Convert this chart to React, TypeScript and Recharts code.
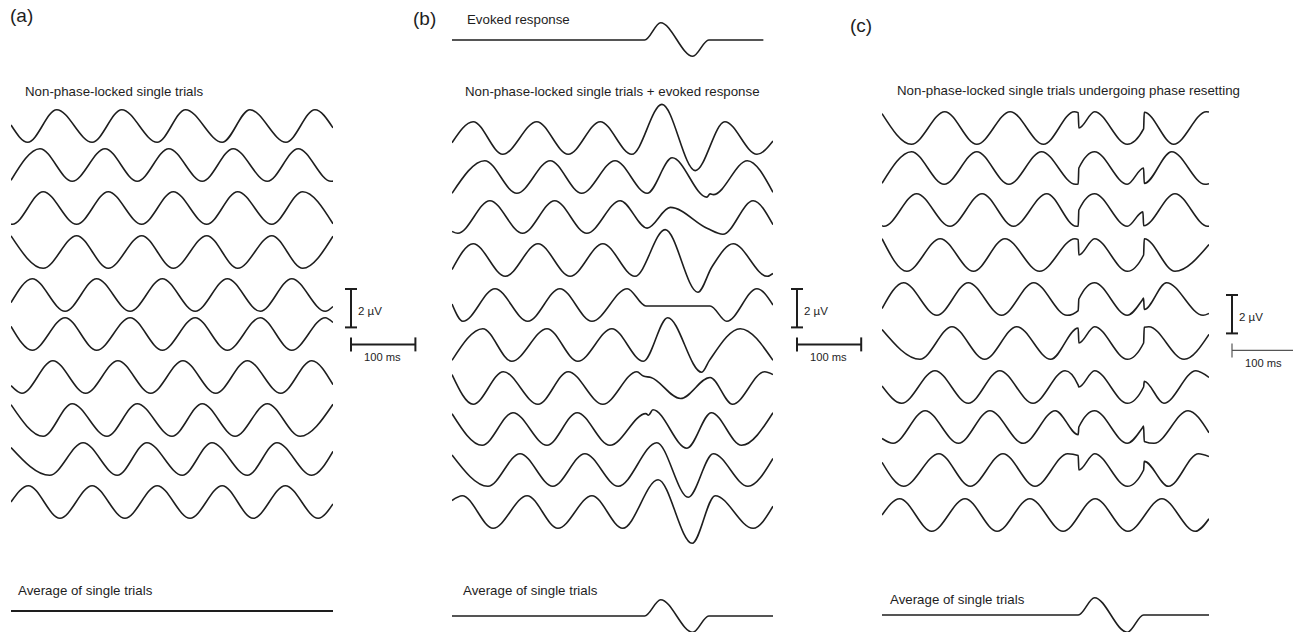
import React from 'react'
import { LineChart, Line, XAxis, YAxis } from 'recharts'

type Pt = [number, number]

// [time in ms, amplitude in µV], peaks / troughs / jumps

// (a) non-phase-locked single trials
const trialsA: Pt[][] = [
  [[0, 0.05], [26, -0.85], [71, 0.85], [126, -0.85], [172, 0.85], [227, -0.85], [271, 0.85], [328, -0.85], [371, 0.85], [427, -0.85], [472, 0.85], [500, -0.1]],
  [[0, -0.8], [45, 0.85], [95, -0.85], [146, 0.85], [196, -0.85], [245, 0.85], [297, -0.85], [345, 0.85], [398, -0.85], [446, 0.85], [497, -0.85], [500, -0.84]],
  [[0, -0.84], [2, -0.85], [50, 0.85], [102, -0.85], [151, 0.85], [203, -0.85], [252, 0.85], [304, -0.85], [352, 0.85], [405, -0.85], [453, 0.85], [500, -0.82]],
  [[0, 0.84], [50, -0.85], [102, 0.85], [151, -0.85], [203, 0.85], [252, -0.85], [304, 0.85], [352, -0.85], [405, 0.85], [453, -0.85], [500, 0.82]],
  [[0, -0.4], [33, 0.85], [84, -0.85], [133, 0.85], [185, -0.85], [235, 0.85], [286, -0.85], [336, 0.85], [387, -0.85], [436, 0.85], [488, -0.85], [500, -0.6]],
  [[0, 0.4], [33, -0.85], [84, 0.85], [133, -0.85], [185, 0.85], [235, -0.85], [286, 0.85], [336, -0.85], [387, 0.85], [436, -0.85], [488, 0.85], [500, 0.6]],
  [[0, -0.45], [17, -0.85], [65, 0.85], [116, -0.85], [166, 0.85], [217, -0.85], [267, 0.85], [318, -0.85], [367, 0.85], [419, -0.85], [467, 0.85], [500, -0.4]],
  [[0, 0.8], [50, -0.85], [95, 0.85], [149, -0.85], [196, 0.85], [250, -0.85], [297, 0.85], [348, -0.85], [398, 0.85], [449, -0.85], [500, 0.82]],
  [[0, 0.6], [60, -0.85], [112, 0.85], [165, -0.85], [211, 0.85], [266, -0.85], [312, 0.85], [367, -0.85], [413, 0.85], [467, -0.85], [500, 0.4]],
  [[0, 0], [27, 0.85], [76, -0.85], [126, 0.85], [177, -0.85], [227, 0.85], [278, -0.85], [328, 0.85], [376, -0.85], [426, 0.85], [477, -0.85], [500, -0.1]],
]
const averageA: Pt[] = [[0, 0], [500, 0]]

// (b) single trials + evoked response
const evokedB: Pt[] = [[0, 0], [300, 0], [325, 0.9], [375, -0.85], [400, 0], [485, 0]]
const trialsB: Pt[][] = [
  [[0, -0.25], [33, 0.85], [79, -0.85], [132, 0.85], [181, -0.85], [231, 0.85], [280, -0.85], [327, 1.75], [379, -1.7], [425, 0.85], [475, -0.85], [500, -0.15]],
  [[0, -0.85], [51, 0.85], [101, -0.85], [153, 0.85], [202, -0.85], [254, 0.85], [304, -0.85], [343, 1.0], [397, -1.05], [402, -0.88], [407, -0.92], [460, 0.85], [500, -0.8]],
  [[0, -0.75], [9, -0.85], [59, 0.85], [110, -0.85], [160, 0.85], [210, -0.85], [262, 0.85], [304, -0.58], [340, 0.5], [398, -0.6], [422, -0.9], [469, 0.85], [500, -0.4]],
  [[0, -0.5], [33, 0.85], [83, -0.85], [134, 0.85], [184, -0.85], [235, 0.85], [285, -0.85], [332, 1.58], [383, -1.68], [405, -0.35], [438, 0.85], [491, -0.85], [500, -0.7]],
  [[0, 0.05], [17, -0.85], [67, 0.85], [118, -0.85], [168, 0.85], [218, -0.85], [273, 0.85], [302, -0.05], [402, -0.05], [428, -0.85], [475, 0.85], [500, 0]],
  [[0, -0.8], [48, 0.85], [93, -0.85], [148, 0.85], [196, -0.85], [249, 0.85], [298, -0.85], [336, 1.42], [389, -1.42], [401, -0.8], [449, 0.85], [500, -0.8]],
  [[0, 0.7], [33, -0.85], [80, 0.85], [134, -0.85], [181, 0.85], [235, -0.85], [288, 0.85], [298, 0.62], [310, 0.55], [356, -0.55], [402, 0.55], [437, -0.85], [487, 0.85], [500, 0.7]],
  [[0, 0.8], [47, -0.85], [95, 0.85], [148, -0.85], [195, 0.85], [246, -0.85], [302, 0.8], [306, 0.72], [313, 1.0], [366, -1.0], [404, 0.85], [451, -0.85], [500, 0.85]],
  [[0, 0.78], [56, -0.85], [106, 0.85], [157, -0.85], [207, 0.85], [259, -0.85], [319, 1.42], [368, -1.42], [407, 0.85], [461, -0.85], [500, 0.6]],
  [[0, 0.6], [16, 0.85], [64, -0.85], [117, 0.85], [165, -0.85], [218, 0.85], [266, -0.85], [321, 1.68], [374, -1.63], [410, 0.85], [469, -0.85], [500, 0.3]],
]
const averageB: Pt[] = [[0, 0], [300, 0], [325, 0.85], [375, -0.85], [400, 0], [500, 0]]

// (c) single trials with phase resetting between 300 and 400 ms
const trialsC: Pt[][] = [
  [[0, 0.75], [45, -0.85], [96, 0.85], [145, -0.85], [196, 0.85], [247, -0.85], [294, 0.85], [300, 0.8], [301, 0], [325, 0.85], [375, -0.85], [400, -0.05], [401, 0.82], [446, -0.85], [496, 0.85], [500, 0.83]],
  [[0, -0.8], [45, 0.85], [95, -0.85], [145, 0.85], [194, -0.85], [244, 0.85], [296, -0.85], [300, -0.83], [301, 0], [325, 0.85], [375, -0.85], [400, 0], [401, -0.8], [443, 0.85], [494, -0.85], [500, -0.82]],
  [[0, -0.82], [3, -0.85], [53, 0.85], [104, -0.85], [153, 0.85], [201, -0.85], [252, 0.85], [297, -0.85], [300, -0.84], [301, 0], [325, 0.85], [375, -0.85], [399, -0.1], [400, -0.82], [448, 0.85], [498, -0.85], [500, -0.84]],
  [[0, 0.85], [38, -0.85], [89, 0.85], [140, -0.85], [188, 0.85], [241, -0.85], [295, 0.85], [300, 0.8], [301, 0], [325, 0.85], [375, -0.85], [400, 0], [401, 0.85], [448, -0.85], [500, 0.55]],
  [[0, -0.5], [33, 0.85], [84, -0.85], [132, 0.85], [183, -0.85], [232, 0.85], [283, -0.85], [300, -0.6], [301, 0], [325, 0.85], [375, -0.85], [398, -0.05], [400, 0.05], [401, -0.55], [435, 0.85], [491, -0.85], [500, -0.75]],
  [[0, 0.7], [58, -0.85], [107, 0.85], [157, -0.85], [206, 0.85], [258, -0.85], [300, 0.78], [301, 0], [325, 0.85], [375, -0.85], [400, 0], [401, 0.82], [408, 0.85], [462, -0.85], [500, 0.45]],
  [[0, 0.05], [30, -0.85], [81, 0.85], [132, -0.85], [180, 0.85], [231, -0.85], [280, 0.85], [300, 0.1], [301, 0], [325, 0.85], [375, -0.85], [400, 0], [401, 0.3], [431, -0.85], [480, 0.85], [500, 0.5]],
  [[0, -0.6], [17, -0.85], [66, 0.85], [117, -0.85], [165, 0.85], [216, -0.85], [265, 0.85], [300, -0.4], [301, 0], [325, 0.85], [375, -0.85], [398, -0.05], [400, 0.05], [401, -0.75], [416, -0.85], [468, 0.85], [500, -0.3]],
  [[0, 0.4], [33, -0.85], [87, 0.85], [135, -0.85], [185, 0.85], [234, -0.85], [284, 0.85], [300, 0.75], [301, 0], [325, 0.85], [375, -0.85], [400, 0], [401, 0.45], [438, -0.85], [484, 0.85], [500, 0.7]],
  [[0, 0], [27, 0.85], [76, -0.85], [127, 0.85], [176, -0.85], [226, 0.85], [277, -0.85], [326, 0.85], [376, -0.85], [428, 0.85], [479, -0.85], [500, -0.2]],
]
const averageC: Pt[] = [[0, 0], [300, 0], [325, 0.9], [375, -0.9], [400, 0], [500, 0]]

// layout (pixels)
const TRACE_H = 96
const UV_RANGE = 2.5
const PX_PER_UV = TRACE_H / (2 * UV_RANGE)
const T_MAX = 500
const FONT = '"Liberation Sans", Arial, Helvetica, sans-serif'
const INK = '#1e1e1e'

const panelA = { left: 11, width: 322, rows: [126, 165, 208, 252, 295, 334, 377, 420, 459, 502], avg: 611 }
const panelB = { left: 452, width: 321, rows: [138, 177, 217, 260, 305, 345, 388, 429, 470, 512], avg: 616, evoked: 40 }
const panelC = { left: 882, width: 327, rows: [128, 168, 210, 255, 299, 343, 387, 427, 470, 515], avg: 615 }

function Trace({ points, left, width, center, strokeWidth = 1.6 }: { points: Pt[]; left: number; width: number; center: number; strokeWidth?: number }) {
  const data = points.map(([t, v]) => ({ t, v }))
  return (
    <div style={{ position: 'absolute', left, top: center - TRACE_H / 2 }}>
      <LineChart width={width} height={TRACE_H} data={data} margin={{ top: 0, right: 0, bottom: 0, left: 0 }}>
        <XAxis dataKey="t" type="number" domain={[0, T_MAX]} hide />
        <YAxis type="number" domain={[-UV_RANGE, UV_RANGE]} hide />
        <Line dataKey="v" type="monotone" stroke={INK} strokeWidth={strokeWidth} dot={false} isAnimationActive={false} />
      </LineChart>
    </div>
  )
}

function Label({ x, y, size = 13.3, children }: { x: number; y: number; size?: number; children: React.ReactNode }) {
  return (
    <div style={{ position: 'absolute', left: x, top: y - size / 2, fontSize: size, lineHeight: `${size}px`, whiteSpace: 'nowrap', color: INK }}>
      {children}
    </div>
  )
}

// 2 µV / 100 ms calibration bars, sized from the trace scales
function ScaleBars({ x, y, pxPerMs, light = false }: { x: number; y: number; pxPerMs: number; light?: boolean }) {
  const vLen = 2 * PX_PER_UV
  const hLen = 100 * pxPerMs
  const hy = y + vLen + 17
  const sw = light ? 1.2 : 2
  const col = light ? '#555' : INK
  return (
    <>
      <svg style={{ position: 'absolute', left: 0, top: 0, overflow: 'visible' }} width={1} height={1}>
        <line x1={x} y1={y} x2={x} y2={y + vLen} stroke={INK} strokeWidth={2} />
        <line x1={x - 6} y1={y} x2={x + 6} y2={y} stroke={INK} strokeWidth={2} />
        <line x1={x - 6} y1={y + vLen} x2={x + 6} y2={y + vLen} stroke={INK} strokeWidth={2} />
        <line x1={x} y1={hy} x2={x + hLen} y2={hy} stroke={col} strokeWidth={sw} />
        <line x1={x} y1={hy - 7} x2={x} y2={hy + 7} stroke={col} strokeWidth={sw} />
        <line x1={x + hLen} y1={hy - 7} x2={x + hLen} y2={hy + 7} stroke={col} strokeWidth={sw} />
      </svg>
      <Label x={x + 7} y={y + vLen / 2 + 4} size={11.5}>2 µV</Label>
      <Label x={x + 13} y={hy + 13} size={11.2}>100 ms</Label>
    </>
  )
}

export default function App() {
  return (
    <div style={{ position: 'fixed', left: 0, top: 0, width: 1293, height: 632, overflow: 'hidden', background: '#fff', fontFamily: FONT }}>
      {/* (a) */}
      <Label x={10} y={15} size={19}>(a)</Label>
      <Label x={25} y={92}>Non-phase-locked single trials</Label>
      {trialsA.map((p, i) => (
        <Trace key={`a${i}`} points={p} left={panelA.left} width={panelA.width} center={panelA.rows[i]} />
      ))}
      <Label x={18} y={591}>Average of single trials</Label>
      <Trace points={averageA} left={panelA.left} width={panelA.width} center={panelA.avg} strokeWidth={2} />
      <ScaleBars x={351} y={289} pxPerMs={panelA.width / T_MAX} />

      {/* (b) */}
      <Label x={413} y={18} size={19}>(b)</Label>
      <Label x={467} y={20}>Evoked response</Label>
      <Trace points={evokedB} left={panelB.left} width={panelB.width} center={panelB.evoked} />
      <Label x={465} y={92}>Non-phase-locked single trials + evoked response</Label>
      {trialsB.map((p, i) => (
        <Trace key={`b${i}`} points={p} left={panelB.left} width={panelB.width} center={panelB.rows[i]} />
      ))}
      <Label x={463} y={591}>Average of single trials</Label>
      <Trace points={averageB} left={panelB.left} width={panelB.width} center={panelB.avg} />
      <ScaleBars x={797} y={289} pxPerMs={panelB.width / T_MAX} />

      {/* (c) */}
      <Label x={850} y={25} size={19}>(c)</Label>
      <Label x={897} y={91}>Non-phase-locked single trials undergoing phase resetting</Label>
      {trialsC.map((p, i) => (
        <Trace key={`c${i}`} points={p} left={panelC.left} width={panelC.width} center={panelC.rows[i]} />
      ))}
      <Label x={890} y={600}>Average of single trials</Label>
      <Trace points={averageC} left={panelC.left} width={panelC.width} center={panelC.avg} />
      <ScaleBars x={1232} y={295} pxPerMs={panelC.width / T_MAX} light />
    </div>
  )
}
